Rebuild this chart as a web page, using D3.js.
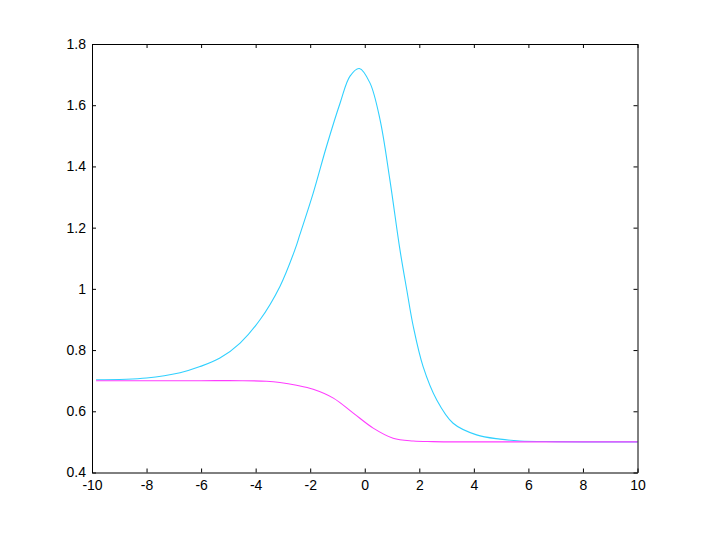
<!DOCTYPE html>
<html><head><meta charset="utf-8">
<script src="https://cdn.jsdelivr.net/npm/d3@7"></script>
<style>body{margin:0;background:#fff}svg{display:block}text{font-family:"Liberation Sans",Arial,sans-serif;font-size:14px;fill:#000}</style>
</head><body>
<script>
const xTicks = [-10,-8,-6,-4,-2,0,2,4,6,8,10];
const yTicks = [0.4,0.6,0.8,1,1.2,1.4,1.6,1.8];
const cyanX = [-9.85,-8,-6.77,-6.04,-5.31,-4.57,-3.84,-3.11,-2.56,-2.38,-1.89,-1.40,-0.90,-0.54,-0.20,0.19,0.56,0.92,1.29,1.54,1.78,2.14,2.64,3.24,4.10,4.96,5.69,7,8.5,10];
const cyanY = [0.703,0.709,0.726,0.746,0.774,0.823,0.899,1.008,1.128,1.177,1.313,1.466,1.608,1.695,1.720,1.673,1.553,1.357,1.128,0.997,0.877,0.746,0.637,0.561,0.523,0.509,0.503,0.501,0.500,0.500];
const magX = [-9.85,-8,-6,-4.5,-3.6,-3.11,-2.5,-1.89,-1.15,-0.42,0.31,1.04,1.78,2.5,4.22,6,8,10];
const magY = [0.700,0.700,0.700,0.700,0.698,0.694,0.685,0.672,0.643,0.594,0.545,0.512,0.503,0.501,0.500,0.500,0.500,0.500];

const W=706,H=533, L=92,R=637.5,T=44,B=472.5;
const svg=d3.select("body").append("svg").attr("width",W).attr("height",H);
const x=d3.scaleLinear().domain([-10,10]).range([L,R]);
const y=d3.scaleLinear().domain([0.4,1.8]).range([B,T]);

const line=d3.line().x(d=>x(d[0])).y(d=>y(d[1])).curve(d3.curveCatmullRom.alpha(0.5));
svg.append("path").datum(cyanX.map((v,i)=>[v,cyanY[i]])).attr("d",line).attr("fill","none").attr("stroke","#30d0ff").attr("stroke-width",1.1);
svg.append("path").datum(magX.map((v,i)=>[v,magY[i]])).attr("d",line).attr("fill","none").attr("stroke","#ff3cff").attr("stroke-width",1.1);

const tk=4;
const fmt=d=>String(d);
svg.append("g").attr("transform",`translate(0,${B})`).call(d3.axisBottom(x).tickValues(xTicks).tickSizeInner(-tk).tickSizeOuter(0).tickPadding(8).tickFormat(fmt));
svg.append("g").attr("transform",`translate(0,${T})`).call(d3.axisTop(x).tickValues(xTicks).tickSizeInner(-tk).tickSizeOuter(0).tickFormat(""));
svg.append("g").attr("transform",`translate(${L},0)`).call(d3.axisLeft(y).tickValues(yTicks).tickSizeInner(-tk).tickSizeOuter(0).tickPadding(6).tickFormat(fmt));
svg.append("g").attr("transform",`translate(${R},0)`).call(d3.axisRight(y).tickValues(yTicks).tickSizeInner(-tk).tickSizeOuter(0).tickFormat(""));
svg.selectAll(".domain").attr("stroke","#000");
svg.selectAll(".tick line").attr("stroke","#000");
svg.selectAll(".tick text").style("font-size","14px").attr("fill","#000").style("font-family","Liberation Sans, Arial, sans-serif");
</script>
</body></html>
